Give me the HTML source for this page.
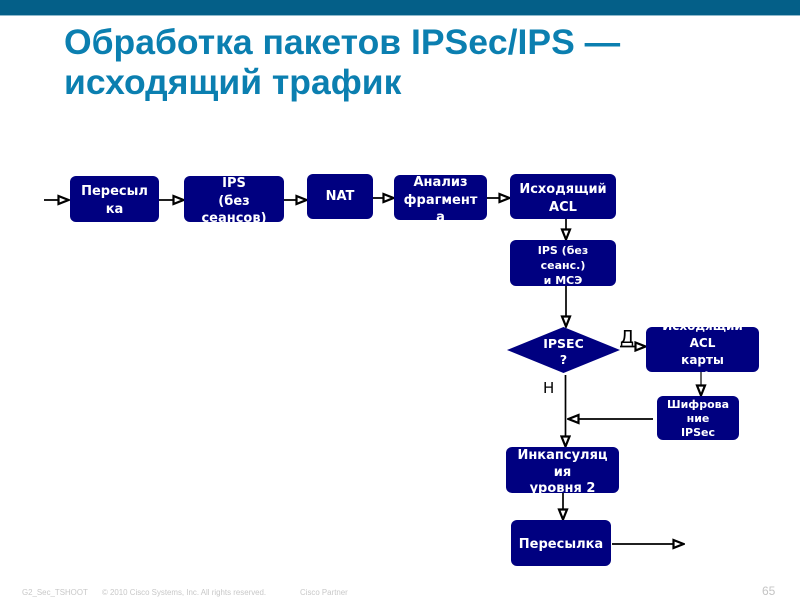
<!DOCTYPE html>
<html lang="ru">
<head>
<meta charset="utf-8">
<style>
html,body{margin:0;padding:0;background:#fff}
#p{position:relative;width:800px;height:600px;overflow:hidden;background:#fff;font-family:"Liberation Sans",sans-serif}
#top{position:absolute;left:0;top:0;width:800px;height:15px;background:#045f88;border-bottom:1px solid #8fb9cc}
#title{position:absolute;left:64px;top:22px;font:bold 35.5px/40px "Liberation Sans",sans-serif;color:#0b7fb0;white-space:nowrap}
.b{position:absolute;background:#000080;border-radius:6px;overflow:hidden;color:#fff;text-align:center;font:bold 13px/17.5px "DejaVu Sans",sans-serif;box-sizing:border-box}
.b span{position:absolute;left:-10px;right:-10px}
svg{position:absolute;left:0;top:0}
.f{position:absolute;top:588px;font-size:7.9px;line-height:10px;color:#c8c8c8;white-space:nowrap}
.l{position:absolute;font-family:"DejaVu Sans",sans-serif;color:#000}
</style>
</head>
<body>
<div id="p">
<div id="top"></div>
<div id="title">Обработка пакетов IPSec/IPS —<br>исходящий трафик</div>

<svg width="800" height="600" viewBox="0 0 800 600">
<defs>
<marker id="a" markerWidth="13" markerHeight="11" refX="12" refY="5.500" orient="auto" markerUnits="userSpaceOnUse">
<path d="M1.500 1.500 L11.500 5.500 L1.500 9.500 Z" fill="#fff" stroke="#000" stroke-width="2.200"/>
</marker>
</defs>
<g stroke="#000" stroke-width="1.700" fill="none">
<line x1="44" y1="200" x2="69" y2="200" marker-end="url(#a)"/>
<line x1="159" y1="200" x2="184" y2="200" marker-end="url(#a)"/>
<line x1="284" y1="200" x2="307" y2="200" marker-end="url(#a)"/>
<line x1="373" y1="198" x2="394" y2="198" marker-end="url(#a)"/>
<line x1="487" y1="198" x2="510" y2="198" marker-end="url(#a)"/>
<line x1="566" y1="219" x2="566" y2="240" marker-end="url(#a)"/>
<line x1="566" y1="286" x2="566" y2="327" marker-end="url(#a)"/>
<line x1="620" y1="346.500" x2="646" y2="346.500" marker-end="url(#a)"/>
<line x1="701" y1="372" x2="701" y2="396" stroke-width="1.200" marker-end="url(#a)"/>
<line x1="653" y1="419" x2="568" y2="419" marker-end="url(#a)"/>
<line x1="565.500" y1="375" x2="565.500" y2="447" marker-end="url(#a)"/>
<line x1="563" y1="493" x2="563" y2="520" marker-end="url(#a)"/>
<line x1="612" y1="544" x2="684" y2="544" marker-end="url(#a)"/>
</g>
<polygon points="507,350 563.500,327 620,350 563.500,373" fill="#000080"/>
<text x="563.500" y="348" text-anchor="middle" font-family="DejaVu Sans, sans-serif" font-weight="bold" font-size="12.500" fill="#fff">IPSEC</text>
<text x="563.500" y="364" text-anchor="middle" font-family="DejaVu Sans, sans-serif" font-weight="bold" font-size="12.500" fill="#fff">?</text>
</svg>

<div class="b" style="left:70px;top:176px;width:89px;height:46px"><span style="top:7px">Пересыл<br>ка</span></div>
<div class="b" style="left:184px;top:176px;width:100px;height:46px"><span style="top:-1px">IPS<br>(без<br>сеансов)</span></div>
<div class="b" style="left:307px;top:174px;width:66px;height:45px"><span style="top:14px">NAT</span></div>
<div class="b" style="left:394px;top:175px;width:93px;height:45px"><span style="top:-1px">Анализ<br>фрагмент<br>а</span></div>
<div class="b" style="left:510px;top:174px;width:106px;height:45px"><span style="top:7px">Исходящий<br>ACL</span></div>
<div class="b" style="left:510px;top:240px;width:106px;height:46px;font-size:11px;line-height:15px"><span style="top:2.500px">IPS (без<br>сеанс.)<br>и МСЭ</span></div>
<div class="b" style="left:646px;top:327px;width:113px;height:45px;font-size:12px;line-height:17px"><span style="top:-9.500px">Исходящий<br>ACL<br>карты<br>шифр.</span></div>
<div class="b" style="left:657px;top:396px;width:82px;height:44px;font-size:11px;line-height:14px"><span style="top:2px">Шифрова<br>ние<br>IPSec</span></div>
<div class="b" style="left:506px;top:447px;width:113px;height:46px;line-height:16.500px"><span style="top:1px">Инкапсуляц<br>ия<br>уровня 2</span></div>
<div class="b" style="left:511px;top:520px;width:100px;height:46px"><span style="top:16px">Пересылка</span></div>

<div class="l" style="left:620px;top:327.500px;font-size:18px;line-height:20px">Д</div>
<div class="l" style="left:543px;top:380px;font-size:15px;line-height:17px">Н</div>

<div class="f" style="left:22px">G2_Sec_TSHOOT</div>
<div class="f" style="left:102px">© 2010 Cisco Systems, Inc. All rights reserved.</div>
<div class="f" style="left:300px">Cisco Partner</div>
<div style="position:absolute;left:762px;top:584px;font-size:12px;line-height:14px;color:#c4c4c4">65</div>
</div>
</body>
</html>
